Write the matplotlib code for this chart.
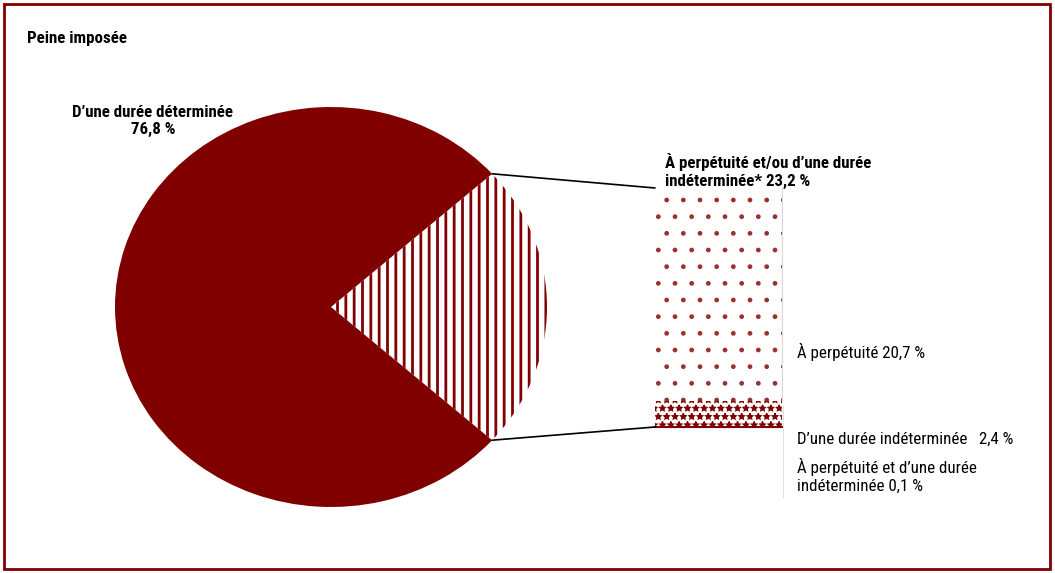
import matplotlib
matplotlib.use('Agg')

import numpy as np
import matplotlib.pyplot as plt
from matplotlib.patches import ConnectionPatch, Rectangle

# Data
pie_labels = ["D\u2019une durée déterminée", "À perpétuité et/ou d\u2019une durée indéterminée*"]
pie_values = [76.8, 23.2]
bar_labels = ["À perpétuité et d\u2019une durée indéterminée", "D\u2019une durée indéterminée", "À perpétuité"]
bar_values = [0.1, 2.4, 20.7]

RED = '#800000'
W, H = 1055, 573

plt.rcParams['font.family'] = ['Roboto Condensed', 'Liberation Sans', 'DejaVu Sans']
fs = 12.2


def fx(x):
    return x / W


def fy(y):
    return 1 - y / H


def pct(v):
    return str(v).replace('.', ',') + ' %'


fig = plt.figure(figsize=(W / 100, H / 100), dpi=100)

# Pie (slightly wider than tall, as in the original)
ax_pie = fig.add_axes([fx(115), fy(507), 432 / W, 400 / H])
half = pie_values[1] / 100 * 360 / 2
wedges, _ = ax_pie.pie(pie_values[::-1], startangle=-half, radius=1,
                       colors=['white', RED],
                       wedgeprops=dict(linewidth=0))
wedges[0].set_edgecolor(RED)
wedges[0].set_hatch('||')
if hasattr(wedges[0], 'set_hatch_linewidth'):
    wedges[0].set_hatch_linewidth(2.0)
else:
    plt.rcParams['hatch.linewidth'] = 2.0
ax_pie.set_aspect('auto')
ax_pie.set_xlim(-1, 1)
ax_pie.set_ylim(-1, 1)
ax_pie.axis('off')

# Stacked bar of the 23.2 % slice
ax_bar = fig.add_axes([fx(655), fy(427), 127 / W, 239 / H])
hatches = [None, '**', '.']
hcolors = [RED, RED, '#9a3030']
bottom = 0
for val, h, c in zip(bar_values, hatches, hcolors):
    if h is None:
        ax_bar.bar(0, val, bottom=bottom, width=1, color=c, linewidth=0)
    else:
        b = ax_bar.bar(0, val, bottom=bottom, width=1, color='white',
                       edgecolor=c, linewidth=0, hatch=h)
        if hasattr(b[0], 'set_hatch_linewidth'):
            b[0].set_hatch_linewidth(1.0)
    bottom += val
ax_bar.set_xlim(-0.5, 0.5)
ax_bar.set_ylim(0, sum(bar_values))
ax_bar.axis('off')
ax_bar.plot([0.5, 0.5], [bar_values[0] + bar_values[1], sum(bar_values)],
            color='#d8d8d8', linewidth=0.8, clip_on=False)
ax_bar.plot([-0.5, 0.5], [0, 0], color=RED, linewidth=1.5, clip_on=False)

# Connection lines from slice to bar
for ang, yb in [(half, sum(bar_values)), (-half, 0)]:
    a = np.deg2rad(ang)
    con = ConnectionPatch(xyA=(np.cos(a), np.sin(a)), coordsA=ax_pie.transData,
                          xyB=(-0.5, yb), coordsB=ax_bar.transData,
                          color='black', linewidth=1.2)
    fig.add_artist(con)

# Faint line beside the small labels
fig.add_artist(plt.Line2D([fx(783), fx(783)], [fy(406), fy(497)],
                          color='#e0e0e0', linewidth=0.8))

# Texts
fig.text(fx(27), fy(38), "Peine imposée", fontsize=fs, fontweight='bold',
         ha='left', va='center')
fig.text(fx(153), fy(121), f"{pie_labels[0]}\n{pct(pie_values[0])}",
         fontsize=fs, fontweight='bold', ha='center', va='center', linespacing=1.2)
fig.text(fx(665), fy(171), "À perpétuité et/ou d\u2019une durée\nindéterminée* "
         + pct(pie_values[1]),
         fontsize=fs, fontweight='bold', ha='left', va='center', linespacing=1.2)
fig.text(fx(797), fy(352), f"{bar_labels[2]} {pct(bar_values[2])}",
         fontsize=fs, ha='left', va='center')
fig.text(fx(797), fy(439), f"{bar_labels[1]}   {pct(bar_values[1])}",
         fontsize=fs, ha='left', va='center')
fig.text(fx(797), fy(476), "À perpétuité et d\u2019une durée\nindéterminée "
         + pct(bar_values[0]),
         fontsize=fs, ha='left', va='center', linespacing=1.2)

# Outer frame
fig.add_artist(Rectangle((fx(3.5), fy(568.5)), fx(1046), 565 / H,
                         transform=fig.transFigure, fill=False,
                         edgecolor=RED, linewidth=2))

fig.savefig('out.png', dpi=100)
